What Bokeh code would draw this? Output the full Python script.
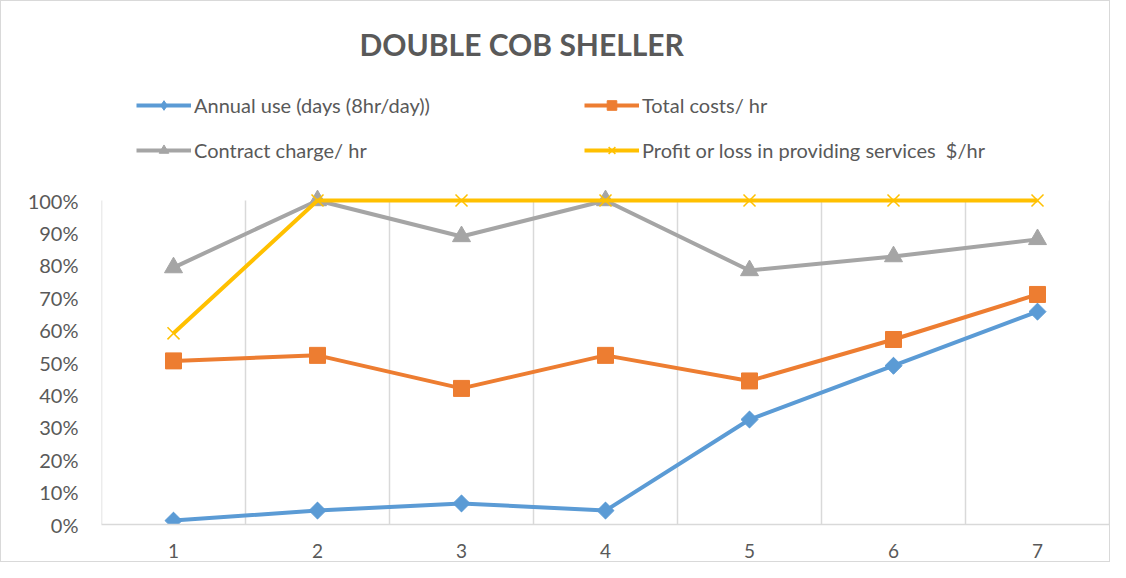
import math
from bokeh.plotting import figure
from bokeh.models import (ColumnDataSource, Legend, LegendItem, FixedTicker,
                          NumeralTickFormatter, Label, Range1d)
from bokeh.embed import file_html
from bokeh.resources import INLINE

# ---- data ----
categories = [1, 2, 3, 4, 5, 6, 7]
annual_use = [0.012, 0.043, 0.065, 0.043, 0.324, 0.490, 0.657]
total_costs = [0.505, 0.522, 0.420, 0.522, 0.443, 0.571, 0.710]
contract_charge = [0.793, 1.000, 0.889, 1.000, 0.784, 0.827, 0.880]
profit_loss = [0.590, 1.000, 1.000, 1.000, 1.000, 1.000, 1.000]
y_ticks = [0, 0.1, 0.2, 0.3, 0.4, 0.5, 0.6, 0.7, 0.8, 0.9, 1.0]
title_text = "DOUBLE COB SHELLER"
series_names = ["Annual use (days (8hr/day))", "Total costs/ hr",
                "Contract charge/ hr", "Profit or loss in providing services  $/hr"]

FONT = "Lato"
TXT = "#595959"
GRID = "#d9d9d9"

# layout (pixels)
W, H = 1110, 562
LEFT, RIGHT, TOP, BOTTOM = 100, 2, 5, 39
FRAME_H = H - TOP - BOTTOM          # 518
PLOT_H = 324                         # pixels from 0% to 100%
y_top = FRAME_H / PLOT_H             # headroom for title + legend inside the frame

p = figure(width=W, height=H, output_backend="svg", toolbar_location=None,
           x_range=Range1d(0.5, 7.5), y_range=Range1d(0, y_top))
p.min_border_left = LEFT
p.min_border_right = RIGHT
p.min_border_top = TOP
p.min_border_bottom = BOTTOM
p.outline_line_color = None
p.background_fill_color = "white"
p.border_fill_color = "white"
p.styles = {"border": "1px solid #d9d9d9"}

# axes
p.xaxis.ticker = FixedTicker(ticks=categories)
p.xaxis.axis_line_color = GRID
p.xaxis.axis_line_width = 1.5
p.xaxis.major_tick_line_color = None
p.xaxis.minor_tick_line_color = None
p.xaxis.major_label_text_font = FONT
p.xaxis.major_label_text_font_size = "19px"
p.xaxis.major_label_text_color = TXT
p.xaxis.major_label_standoff = 13

p.yaxis.ticker = FixedTicker(ticks=y_ticks)
p.yaxis.formatter = NumeralTickFormatter(format="0%")
p.yaxis.axis_line_color = None
p.yaxis.major_tick_line_color = None
p.yaxis.minor_tick_line_color = None
p.yaxis.major_label_text_font = FONT
p.yaxis.major_label_text_font_size = "20px"
p.yaxis.major_label_text_color = TXT
p.yaxis.major_label_standoff = 17

p.xgrid.grid_line_color = None
p.ygrid.grid_line_color = None

# vertical category-boundary lines spanning 0%..100%
bounds = [c - 0.5 for c in categories] + [categories[-1] + 0.5]
p.segment(x0=bounds, y0=[0] * len(bounds), x1=bounds, y1=[1.0] * len(bounds),
          line_color=GRID, line_width=1.5)

src = ColumnDataSource(dict(x=categories, a=annual_use, t=total_costs,
                            c=contract_charge, pr=profit_loss))

LW = 4
l1 = p.line("x", "a", source=src, color="#5B9BD5", line_width=LW)
d1 = p.scatter("x", "a", source=src, marker="diamond", size=16, color="#5B9BD5")
m1 = p.scatter("x", "a", source=src, marker="square", angle=math.pi / 4, size=12,
               color="#5B9BD5")
l2 = p.line("x", "t", source=src, color="#ED7D31", line_width=LW)
m2 = p.scatter("x", "t", source=src, marker="square", size=16, color="#ED7D31")
l3 = p.line("x", "c", source=src, color="#A5A5A5", line_width=LW)
m3 = p.scatter("x", "c", source=src, marker="triangle", size=18, color="#A5A5A5")
l4 = p.line("x", "pr", source=src, color="#FFC000", line_width=LW)
m4 = p.scatter("x", "pr", source=src, marker="x", size=17, color="#FFC000", line_width=1.5)

# legend fills column-first: col 1 = Annual, Contract; col 2 = Total, Profit
legend = Legend(items=[
    LegendItem(label=series_names[0], renderers=[l1, d1]),
    LegendItem(label=series_names[2], renderers=[l3, m3]),
    LegendItem(label=series_names[1], renderers=[l2, m2]),
    LegendItem(label=series_names[3], renderers=[l4, m4]),
], location=(35, 362), ncols=2)
legend.border_line_color = None
legend.background_fill_alpha = 0
legend.padding = 0
legend.margin = 0
legend.spacing = 21
legend.glyph_width = 55
legend.glyph_height = 24
legend.label_height = 24
legend.label_width = 369
legend.label_standoff = 3
legend.label_text_font = FONT
legend.label_text_font_size = "20px"
legend.label_text_color = TXT
p.add_layout(legend, "center")

title = Label(x=258, y=481, x_units="screen", y_units="screen", text=title_text,
              text_font=FONT, text_font_size="30px", text_font_style="bold",
              text_color=TXT, text_baseline="middle", text_align="left")
p.add_layout(title)

open("out.html", "w").write(file_html(p, INLINE))
